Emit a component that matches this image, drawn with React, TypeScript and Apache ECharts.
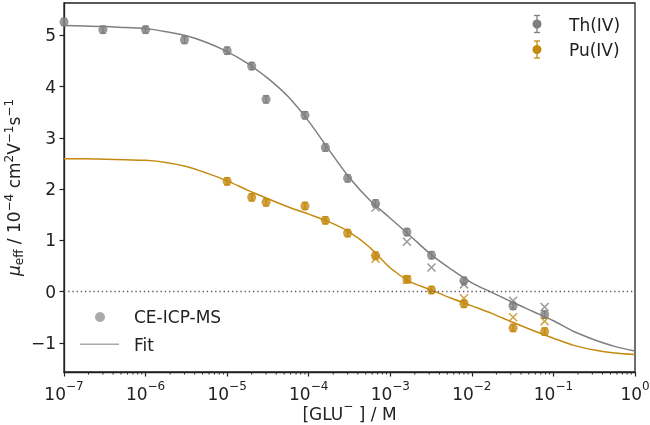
import React, { useEffect, useRef } from "react";
import * as echarts from "echarts";

// ---- data ----
const thConc = [1e-7, 3e-7, 1e-6, 3e-6, 1e-5, 2e-5, 3e-5, 9e-5, 1.6e-4, 3e-4, 6.6e-4, 1.6e-3, 3.2e-3, 8e-3, 3.2e-2, 7.8e-2];
const thMu = [5.26, 5.11, 5.11, 4.91, 4.70, 4.40, 3.75, 3.44, 2.81, 2.21, 1.72, 1.16, 0.71, 0.21, -0.28, -0.45];
const thErr = [0.07, 0.07, 0.07, 0.07, 0.07, 0.07, 0.07, 0.07, 0.07, 0.07, 0.07, 0.07, 0.07, 0.07, 0.07, 0.07];

const puConc = [1e-5, 2e-5, 3e-5, 9e-5, 1.6e-4, 3e-4, 6.6e-4, 1.6e-3, 3.2e-3, 8e-3, 3.2e-2, 7.8e-2];
const puMu = [2.15, 1.84, 1.74, 1.67, 1.39, 1.14, 0.70, 0.24, 0.03, -0.24, -0.71, -0.78];
const puErr = [0.07, 0.07, 0.07, 0.07, 0.07, 0.07, 0.07, 0.07, 0.07, 0.07, 0.07, 0.07];

const thCrossConc = [6.6e-4, 1.6e-3, 3.2e-3, 8e-3, 3.2e-2, 7.8e-2];
const thCrossMu = [1.64, 0.97, 0.47, 0.14, -0.18, -0.30];
const puCrossConc = [6.6e-4, 1.6e-3, 8e-3, 3.2e-2, 7.8e-2];
const puCrossMu = [0.64, 0.23, -0.13, -0.50, -0.58];

// fit curves, read every quarter decade (log10 of concentration)
const fitLogConc = [-7, -6.75, -6.5, -6.25, -6, -5.75, -5.5, -5.25, -5, -4.75, -4.5, -4.25, -4, -3.75, -3.5, -3.25, -3, -2.75, -2.5, -2.25, -2, -1.75, -1.5, -1.25, -1, -0.75, -0.5, -0.25, 0];
const thFitMu = [5.19, 5.18, 5.17, 5.15, 5.13, 5.07, 4.99, 4.86, 4.68, 4.45, 4.16, 3.80, 3.32, 2.76, 2.22, 1.78, 1.43, 1.08, 0.72, 0.43, 0.17, -0.02, -0.21, -0.39, -0.57, -0.78, -0.94, -1.07, -1.16];
const puFitMu = [2.59, 2.59, 2.58, 2.57, 2.56, 2.52, 2.44, 2.31, 2.16, 1.98, 1.81, 1.65, 1.51, 1.36, 1.16, 0.86, 0.46, 0.19, 0.03, -0.13, -0.28, -0.43, -0.60, -0.76, -0.91, -1.05, -1.14, -1.20, -1.23];

const yTicks = [-1, 0, 1, 2, 3, 4, 5];
const minorMantissas = [2, 3, 4, 5, 6, 7, 8, 9];
const minorDecades = [-7, -6, -5, -4, -3, -2, -1];

const Y_MIN = -1.57;
const Y_MAX = 5.63;

const TH = "#7f7f7f";
const PU = "#c58a10";
const INK = "#222222";
const FONT = "DejaVu Sans";

const minorTicks: number[][] = [];
minorDecades.forEach((d) => minorMantissas.forEach((m) => minorTicks.push([m * Math.pow(10, d), Y_MIN])));

const crossPath = "path://M0,0L10,10M10,0L0,10";

function errData(xs: number[], ys: number[], es: number[]) {
  return xs.map((x, i) => [x, ys[i] - es[i], ys[i] + es[i]]);
}

function errRender(color: string) {
  return (params: any, api: any) => {
    const top = api.coord([api.value(0), api.value(2)]);
    const bot = api.coord([api.value(0), api.value(1)]);
    const style = { stroke: color, lineWidth: 1.3 };
    return {
      type: "group",
      children: [
        { type: "line", shape: { x1: top[0], y1: top[1], x2: bot[0], y2: bot[1] }, style },
        { type: "line", shape: { x1: top[0] - 3, y1: top[1], x2: top[0] + 3, y2: top[1] }, style },
        { type: "line", shape: { x1: bot[0] - 3, y1: bot[1], x2: bot[0] + 3, y2: bot[1] }, style },
      ],
    };
  };
}

function legendIcon(x: number, y: number, color: string) {
  const style = { stroke: color, lineWidth: 1.3 };
  return {
    type: "group",
    children: [
      { type: "line", shape: { x1: x, y1: y - 8.5, x2: x, y2: y + 8.5 }, style },
      { type: "line", shape: { x1: x - 3, y1: y - 8.5, x2: x + 3, y2: y - 8.5 }, style },
      { type: "line", shape: { x1: x - 3, y1: y + 8.5, x2: x + 3, y2: y + 8.5 }, style },
      { type: "circle", shape: { cx: x, cy: y, r: 4.5 }, style: { fill: color } },
    ],
  };
}

function legendText(x: number, y: number, text: string) {
  return {
    type: "text",
    x,
    y,
    style: { text, fill: INK, font: `17px '${FONT}'`, textVerticalAlign: "middle", textAlign: "left" },
  };
}

export default function App() {
  const ref = useRef<HTMLDivElement>(null);

  useEffect(() => {
    if (!ref.current) return;
    const chart = echarts.init(ref.current, null, { renderer: "svg" });

    const option: any = {
      animation: false,
      textStyle: { fontFamily: FONT },
      grid: {
        left: 64, right: 15, top: 3, bottom: 53,
        containLabel: false, outerBoundsMode: "none",
        show: true, borderColor: INK, borderWidth: 1.3, backgroundColor: "transparent",
      },
      xAxis: {
        type: "log",
        logBase: 10,
        min: 1e-7,
        max: 1,
        splitNumber: 7,
        axisLine: { show: true, onZero: false, lineStyle: { color: INK, width: 1.3 } },
        axisTick: { show: true, length: 4.5, lineStyle: { color: INK, width: 1.2 } },
        splitLine: { show: false },
        axisLabel: {
          margin: 8,
          formatter: (v: number) => {
            const e = Math.round(Math.log10(v));
            return e === 0 ? "{b|10}{e|0}" : `{b|10}{e|${e < 0 ? "\u2212" + -e : e}}`;
          },
          rich: {
            b: { fontSize: 17, fontFamily: FONT, color: INK, lineHeight: 22, verticalAlign: "bottom" },
            e: { fontSize: 12, fontFamily: FONT, color: INK, lineHeight: 12, verticalAlign: "top" },
          },
        },
        name: "{t|[GLU}{s|\u2212}{t| ] / M}",
        nameLocation: "middle",
        nameGap: 28,
        nameMoveOverlap: false,
        nameTextStyle: {
          rich: {
            t: { fontSize: 17, fontFamily: FONT, color: INK, lineHeight: 22, verticalAlign: "bottom" },
            s: { fontSize: 12, fontFamily: FONT, color: INK, lineHeight: 12, verticalAlign: "top" },
          },
        },
      },
      yAxis: {
        type: "value",
        min: Y_MIN,
        max: Y_MAX,
        axisLine: { show: true, lineStyle: { color: INK, width: 1.3 } },
        axisTick: { show: true, length: 4.5, customValues: yTicks, lineStyle: { color: INK, width: 1.2 } },
        splitLine: { show: false },
        axisLabel: {
          customValues: yTicks,
          margin: 8,
          fontSize: 17,
          fontFamily: FONT,
          color: INK,
          formatter: (v: number) => (v < 0 ? "\u2212" + -v : String(v)),
        },
        name: "{mu|\u03bc}{sub|eff}{t| / 10}{sup|\u22124}{t| cm}{sup|2}{t|V}{sup|\u22121}{t|s}{sup|\u22121}",
        nameLocation: "middle",
        nameRotate: 90,
        nameGap: 39,
        nameMoveOverlap: false,
        nameTextStyle: {
          rich: {
            mu: { fontSize: 17, fontFamily: FONT, fontStyle: "italic", color: INK, lineHeight: 22, verticalAlign: "middle" },
            t: { fontSize: 17, fontFamily: FONT, color: INK, lineHeight: 22, verticalAlign: "middle" },
            sup: { fontSize: 12, fontFamily: FONT, color: INK, lineHeight: 12, verticalAlign: "top" },
            sub: { fontSize: 12, fontFamily: FONT, color: INK, lineHeight: 12, verticalAlign: "bottom" },
          },
        },
      },
      series: [
        {
          type: "custom",
          name: "minorTicks",
          silent: true,
          clip: false,
          data: minorTicks,
          renderItem: (params: any, api: any) => {
            const p = api.coord([api.value(0), Y_MIN]);
            return { type: "line", shape: { x1: p[0], y1: p[1], x2: p[0], y2: p[1] + 2.5 }, style: { stroke: INK, lineWidth: 1 } };
          },
          z: 1,
        },
        {
          type: "line",
          name: "Th fit",
          data: fitLogConc.map((e, i) => [Math.pow(10, e), thFitMu[i]]),
          showSymbol: false,
          smooth: 0.3,
          lineStyle: { color: TH, width: 1.5 },
          z: 2,
          markLine: {
            silent: true,
            symbol: "none",
            label: { show: false },
            lineStyle: { color: "#555", width: 1.3, type: [1.3, 2.9] },
            data: [{ yAxis: 0 }],
          },
        },
        {
          type: "line",
          name: "Pu fit",
          data: fitLogConc.map((e, i) => [Math.pow(10, e), puFitMu[i]]),
          showSymbol: false,
          smooth: 0.3,
          lineStyle: { color: PU, width: 1.5 },
          z: 2,
        },
        {
          type: "custom",
          name: "Th err",
          silent: true,
          data: errData(thConc, thMu, thErr),
          encode: { x: 0, y: [1, 2] },
          renderItem: errRender(TH),
          z: 3,
        },
        {
          type: "custom",
          name: "Pu err",
          silent: true,
          data: errData(puConc, puMu, puErr),
          encode: { x: 0, y: [1, 2] },
          renderItem: errRender(PU),
          z: 3,
        },
        {
          type: "scatter",
          name: "Th(IV)",
          data: thConc.map((x, i) => [x, thMu[i]]),
          symbol: "circle",
          symbolSize: 9,
          itemStyle: { color: TH },
          z: 4,
        },
        {
          type: "scatter",
          name: "Pu(IV)",
          data: puConc.map((x, i) => [x, puMu[i]]),
          symbol: "circle",
          symbolSize: 9,
          itemStyle: { color: PU },
          z: 4,
        },
        {
          type: "scatter",
          name: "Th cross",
          data: thCrossConc.map((x, i) => [x, thCrossMu[i]]),
          symbol: crossPath,
          symbolSize: 8,
          itemStyle: { color: "none", borderColor: TH, borderWidth: 1.5 },
          z: 5,
        },
        {
          type: "scatter",
          name: "Pu cross",
          data: puCrossConc.map((x, i) => [x, puCrossMu[i]]),
          symbol: crossPath,
          symbolSize: 8,
          itemStyle: { color: "none", borderColor: PU, borderWidth: 1.5 },
          z: 5,
        },
      ],
      graphic: [
        legendIcon(537, 24, TH),
        legendText(569, 25, "Th(IV)"),
        legendIcon(537, 49.5, PU),
        legendText(569, 50, "Pu(IV)"),
        { type: "circle", shape: { cx: 100, cy: 317, r: 5 }, style: { fill: "#aaaaaa" } },
        legendText(134, 317, "CE-ICP-MS"),
        { type: "line", shape: { x1: 80, y1: 344.3, x2: 119, y2: 344.3 }, style: { stroke: "#aaaaaa", lineWidth: 1.5 } },
        legendText(134, 344.5, "Fit"),
      ],
    };

    chart.setOption(option);
    return () => chart.dispose();
  }, []);

  return <div ref={ref} style={{ position: "fixed", left: 0, top: 0, width: 650, height: 425 }} />;
}
